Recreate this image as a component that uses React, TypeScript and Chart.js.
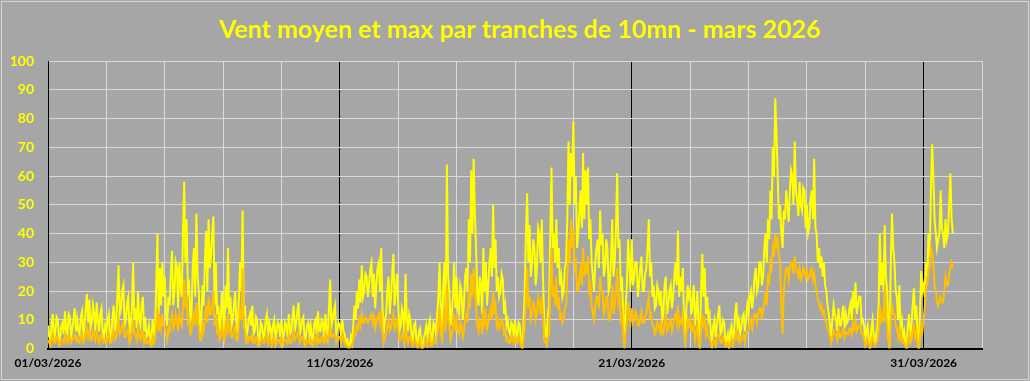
import { useEffect, useRef } from "react";
import { Chart, registerables } from "chart.js";

Chart.register(...registerables);

const TITLE = "Vent moyen et max par tranches de 10mn - mars 2026";

// one sample per hour, 24 samples per day, from 01/03 00h to 01/04 00h
const STEP_HOURS = 1;

const maxWind = [
  8, 4, 3, 9, 12, 2, 6, 11, 10, 3, 4, 8, 9, 5, 13, 6, 5, 12, 11, 4, 7, 10, 14, 6, // 01/03
  10, 6, 5, 11, 13, 4, 8, 14, 19, 9, 17, 7, 9, 15, 12, 6, 16, 10, 6, 12, 14, 5, 4, 8, // 02/03
  6, 10, 12, 3, 4, 11, 15, 6, 9, 18, 29, 12, 14, 20, 22, 8, 10, 16, 18, 5, 8, 14, 30, 10, // 03/03
  14, 7, 20, 10, 8, 15, 18, 6, 11, 4, 5, 8, 3, 2, 10, 5, 6, 22, 40, 12, 28, 15, 30, 18, // 04/03
  25, 12, 8, 18, 15, 26, 34, 15, 20, 30, 28, 14, 30, 22, 18, 40, 58, 30, 45, 20, 22, 10, 12, 28, // 05/03
  35, 18, 47, 25, 20, 6, 8, 22, 15, 30, 41, 20, 45, 28, 32, 40, 46, 15, 30, 12, 15, 6, 10, 20, // 06/03
  12, 5, 22, 14, 35, 12, 18, 8, 10, 16, 20, 6, 8, 18, 30, 20, 48, 12, 15, 4, 6, 10, 12, 8, // 07/03
  15, 5, 6, 11, 10, 2, 3, 9, 8, 4, 5, 10, 12, 4, 9, 7, 4, 8, 10, 3, 6, 9, 8, 4, // 08/03
  10, 3, 5, 9, 8, 4, 12, 5, 6, 11, 15, 6, 9, 13, 16, 5, 7, 10, 11, 3, 4, 8, 9, 5, // 09/03
  8, 3, 4, 9, 10, 5, 13, 6, 6, 10, 9, 4, 12, 6, 5, 14, 24, 8, 10, 13, 15, 5, 7, 9, // 10/03
  8, 4, 10, 6, 5, 2, 3, 1, 1, 4, 2, 8, 15, 10, 20, 14, 24, 16, 29, 18, 20, 26, 25, 18, // 11/03
  22, 28, 30, 18, 26, 14, 22, 28, 30, 20, 35, 15, 5, 10, 12, 20, 25, 12, 18, 26, 33, 15, 20, 26, // 12/03
  15, 6, 8, 14, 12, 5, 26, 10, 6, 12, 10, 4, 3, 8, 9, 2, 2, 6, 7, 1, 0, 4, 5, 8, // 13/03
  4, 8, 10, 2, 3, 9, 8, 5, 12, 18, 30, 10, 8, 22, 30, 12, 64, 25, 20, 8, 12, 18, 30, 14, // 14/03
  25, 14, 12, 22, 20, 10, 15, 25, 28, 20, 45, 30, 62, 40, 66, 47, 35, 18, 15, 25, 22, 12, 35, 20, // 15/03
  30, 15, 22, 30, 35, 25, 50, 28, 38, 20, 25, 18, 20, 26, 24, 12, 15, 8, 10, 6, 5, 9, 8, 4, // 16/03
  10, 4, 5, 9, 8, 2, 0, 8, 20, 40, 54, 30, 43, 25, 30, 38, 35, 22, 28, 42, 40, 30, 45, 25, // 17/03
  10, 5, 4, 12, 15, 40, 63, 35, 40, 30, 45, 28, 35, 22, 25, 18, 20, 28, 30, 45, 72, 50, 68, 60, // 18/03
  79, 50, 60, 35, 40, 48, 55, 42, 68, 45, 62, 50, 63, 38, 45, 30, 25, 20, 30, 35, 38, 28, 48, 36, // 19/03
  40, 25, 28, 38, 35, 20, 22, 32, 45, 25, 30, 42, 61, 35, 38, 20, 25, 10, 2, 15, 22, 38, 30, 20, // 20/03
  38, 22, 25, 30, 30, 18, 22, 28, 32, 20, 20, 26, 28, 35, 45, 25, 30, 18, 22, 14, 15, 22, 20, 15, // 21/03
  20, 10, 12, 22, 25, 12, 15, 20, 22, 14, 18, 25, 30, 22, 41, 18, 25, 20, 28, 10, 5, 15, 22, 18, // 22/03
  20, 12, 15, 22, 8, 14, 20, 6, 0, 20, 33, 18, 28, 12, 18, 10, 12, 6, 2, 8, 10, 4, 8, 12, // 23/03
  15, 5, 6, 10, 9, 2, 3, 5, 0, 6, 8, 4, 5, 12, 16, 8, 10, 5, 7, 11, 12, 6, 10, 15, // 24/03
  12, 18, 20, 14, 18, 25, 28, 20, 22, 30, 30, 22, 25, 35, 40, 30, 45, 38, 55, 45, 70, 60, 87, 75, // 25/03
  60, 45, 50, 40, 35, 48, 45, 55, 50, 44, 55, 62, 60, 50, 72, 55, 52, 46, 58, 50, 48, 56, 55, 42, // 26/03
  50, 40, 42, 52, 55, 45, 66, 42, 40, 30, 35, 28, 32, 25, 30, 22, 20, 15, 12, 8, 5, 10, 15, 12, // 27/03
  10, 6, 14, 8, 8, 12, 15, 7, 12, 9, 10, 14, 16, 10, 20, 14, 23, 12, 15, 18, 18, 9, 10, 8, // 28/03
  3, 6, 8, 2, 0, 7, 10, 4, 2, 5, 8, 15, 40, 22, 30, 20, 43, 25, 20, 8, 0, 30, 47, 35, // 29/03
  30, 20, 18, 10, 22, 8, 10, 4, 6, 2, 0, 8, 12, 5, 8, 15, 21, 10, 15, 4, 0, 12, 27, 20, // 30/03
  22, 18, 30, 25, 40, 32, 55, 71, 60, 45, 40, 35, 38, 40, 55, 42, 40, 35, 45, 38, 40, 50, 61, 45, // 31/03
  40, // 01/04 00h
];

const meanWind = [
  3, 2, 1, 4, 5, 2, 2, 4, 4, 1, 1, 3, 3, 2, 5, 3, 2, 4, 4, 2, 3, 4, 5, 3, // 01/03
  4, 2, 2, 4, 5, 2, 3, 5, 7, 4, 6, 3, 3, 6, 5, 3, 6, 4, 2, 4, 5, 2, 2, 3, // 02/03
  2, 4, 5, 2, 2, 5, 6, 3, 4, 7, 10, 5, 6, 8, 9, 4, 4, 6, 7, 2, 3, 6, 10, 5, // 03/03
  5, 3, 7, 4, 3, 6, 6, 2, 4, 2, 2, 3, 1, 1, 4, 2, 3, 8, 14, 6, 10, 7, 12, 8, // 04/03
  8, 5, 3, 7, 6, 10, 12, 7, 8, 12, 10, 6, 12, 9, 8, 15, 24, 14, 18, 9, 10, 5, 6, 10, // 05/03
  12, 8, 16, 10, 8, 3, 3, 8, 6, 11, 15, 9, 18, 12, 12, 15, 20, 8, 12, 6, 7, 3, 4, 8, // 06/03
  5, 3, 8, 6, 12, 6, 7, 4, 4, 7, 8, 3, 3, 8, 14, 10, 28, 8, 6, 2, 2, 4, 4, 3, // 07/03
  5, 2, 2, 4, 4, 1, 1, 3, 3, 2, 2, 4, 5, 2, 4, 3, 1, 3, 4, 1, 2, 3, 3, 2, // 08/03
  4, 1, 2, 3, 3, 2, 5, 2, 2, 4, 6, 3, 4, 5, 6, 2, 3, 4, 4, 1, 1, 3, 3, 2, // 09/03
  3, 1, 1, 3, 4, 2, 5, 2, 2, 4, 3, 2, 5, 3, 2, 5, 8, 4, 4, 5, 5, 2, 3, 4, // 10/03
  4, 2, 5, 3, 2, 1, 1, 0, 0, 1, 1, 3, 6, 5, 8, 7, 10, 8, 12, 9, 9, 11, 10, 9, // 11/03
  10, 11, 12, 9, 11, 7, 9, 11, 12, 9, 13, 6, 2, 4, 5, 8, 10, 6, 7, 10, 12, 7, 8, 10, // 12/03
  6, 3, 3, 5, 5, 2, 9, 4, 2, 4, 4, 2, 1, 3, 3, 1, 0, 2, 3, 0, 0, 1, 2, 3, // 13/03
  1, 3, 4, 1, 1, 3, 3, 2, 5, 8, 14, 5, 3, 9, 12, 6, 22, 10, 8, 3, 5, 8, 12, 6, // 14/03
  10, 6, 5, 9, 8, 4, 6, 10, 12, 9, 20, 14, 26, 18, 28, 20, 15, 8, 6, 10, 9, 5, 15, 9, // 15/03
  12, 7, 9, 12, 14, 10, 20, 12, 15, 8, 10, 7, 8, 10, 9, 5, 6, 3, 4, 2, 2, 4, 3, 2, // 16/03
  4, 2, 2, 4, 3, 1, 0, 3, 8, 18, 28, 14, 18, 10, 12, 16, 15, 10, 12, 18, 16, 12, 18, 12, // 17/03
  3, 2, 1, 4, 5, 20, 35, 18, 22, 15, 25, 14, 18, 11, 12, 9, 10, 14, 15, 25, 38, 30, 45, 35, // 18/03
  42, 28, 30, 20, 20, 25, 28, 22, 35, 25, 30, 26, 32, 20, 22, 15, 12, 10, 15, 18, 18, 14, 25, 20, // 19/03
  20, 12, 14, 18, 18, 10, 10, 15, 22, 12, 15, 20, 28, 16, 18, 10, 12, 5, 0, 6, 10, 16, 12, 9, // 20/03
  14, 9, 10, 13, 12, 8, 8, 11, 13, 9, 9, 11, 12, 15, 18, 11, 12, 8, 8, 5, 6, 9, 8, 6, // 21/03
  10, 5, 5, 9, 12, 6, 7, 9, 10, 6, 8, 11, 12, 9, 15, 8, 10, 9, 12, 5, 2, 6, 10, 8, // 22/03
  10, 6, 6, 9, 3, 6, 8, 2, 0, 8, 12, 7, 11, 5, 7, 4, 4, 2, 0, 3, 3, 1, 3, 5, // 23/03
  5, 2, 2, 4, 3, 1, 1, 2, 0, 2, 3, 1, 2, 4, 6, 3, 4, 2, 3, 4, 5, 2, 5, 6, // 24/03
  6, 9, 10, 7, 10, 12, 12, 9, 12, 14, 14, 11, 13, 16, 20, 15, 26, 22, 30, 28, 35, 32, 40, 36, // 25/03
  38, 32, 30, 15, 5, 20, 25, 28, 28, 24, 28, 30, 30, 26, 32, 28, 27, 25, 28, 24, 25, 28, 27, 25, // 26/03
  27, 24, 25, 27, 28, 24, 26, 22, 20, 17, 16, 14, 15, 12, 13, 10, 9, 7, 6, 4, 2, 4, 6, 5, // 27/03
  5, 3, 7, 4, 4, 6, 7, 4, 6, 5, 5, 7, 7, 5, 9, 7, 10, 6, 7, 8, 8, 5, 5, 4, // 28/03
  1, 2, 3, 1, 0, 3, 4, 2, 1, 2, 3, 6, 15, 10, 12, 9, 22, 12, 8, 3, 0, 10, 15, 12, // 29/03
  12, 8, 7, 4, 8, 3, 4, 2, 2, 1, 0, 3, 5, 2, 3, 6, 8, 4, 6, 2, 0, 4, 8, 6, // 30/03
  10, 15, 22, 22, 28, 28, 35, 33, 30, 22, 20, 16, 15, 17, 18, 16, 16, 20, 25, 22, 22, 26, 28, 30, // 31/03
  28, // 01/04 00h
];

const xTickLabels = ["01/03/2026", "11/03/2026", "21/03/2026", "31/03/2026"];
const X_MAX_HOURS = 32 * 24;
const GRID_STEP_HOURS = 48;
const LABEL_STEP_HOURS = 240;

const FONT = "Lato, 'Open Sans', 'DejaVu Sans', sans-serif";

const bgPlugin = {
  id: "bgPlugin",
  beforeDraw(chart: any) {
    const { ctx, width, height } = chart;
    ctx.save();
    ctx.fillStyle = "#a6a6a6";
    ctx.fillRect(0, 0, width, height);
    ctx.strokeStyle = "#d4d4d4";
    ctx.lineWidth = 1;
    ctx.strokeRect(1.5, 1.5, width - 3, height - 3);
    ctx.restore();
  },
};

export default function App() {
  const ref = useRef<HTMLCanvasElement>(null);

  useEffect(() => {
    document.body.style.margin = "0";
    if (!ref.current) return;
    const meanPts = meanWind.map((v, i) => ({ x: i * STEP_HOURS, y: v }));
    const maxPts = maxWind.map((v, i) => ({ x: i * STEP_HOURS, y: v }));

    const chart = new Chart(ref.current, {
      type: "line",
      data: {
        datasets: [
          {
            label: "Vent moyen",
            data: meanPts,
            borderColor: "#ffc000",
            backgroundColor: "#ffc000",
            borderWidth: 2,
            pointRadius: 0,
            tension: 0,
            yAxisID: "y",
          },
          {
            label: "Vent max",
            data: maxPts,
            borderColor: "#ffff00",
            backgroundColor: "#ffff00",
            borderWidth: 2,
            pointRadius: 0,
            tension: 0,
            yAxisID: "y",
          },
        ],
      },
      options: {
        animation: false,
        responsive: false,
        layout: { padding: { left: 10, right: 0, top: 0, bottom: 4 } },
        plugins: {
          legend: { display: false },
          tooltip: { enabled: false },
          title: {
            display: true,
            text: TITLE,
            color: "#ffff00",
            font: { family: FONT, size: 25, weight: "bold" },
            padding: { top: 15, bottom: 16 },
          },
        },
        scales: {
          x: {
            type: "linear",
            min: 0,
            max: X_MAX_HOURS,
            ticks: {
              stepSize: GRID_STEP_HOURS,
              autoSkip: false,
              maxRotation: 0,
              color: "#000000",
              font: { family: FONT, size: 12, weight: "bold" },
              padding: 7,
              callback: (v: any) =>
                Number(v) % LABEL_STEP_HOURS === 0 ? xTickLabels[Number(v) / LABEL_STEP_HOURS] ?? "" : "",
            },
            grid: {
              color: (c: any) =>
                c.tick && c.tick.value % LABEL_STEP_HOURS === 0 ? "#000000" : "#d9d9d9",
              lineWidth: 1,
              drawTicks: false,
            },
            border: { display: true, color: "#000000", width: 2 },
          },
          y: {
            min: 0,
            max: 100,
            ticks: {
              stepSize: 10,
              color: "#ffff00",
              font: { family: FONT, size: 14, weight: "bold" },
              padding: 14,
            },
            grid: { color: "#d9d9d9", lineWidth: 1, drawTicks: false },
            border: { display: true, color: "#000000", width: 1 },
            afterFit: (s: any) => {
              s.width = 38;
            },
          },
          yRight: {
            position: "right",
            min: 0,
            max: 100,
            ticks: { display: false },
            grid: { display: false, drawTicks: false },
            border: { display: false },
            afterFit: (s: any) => {
              s.width = 48;
            },
          },
        },
      },
      plugins: [bgPlugin],
    } as any);

    return () => chart.destroy();
  }, []);

  return <canvas ref={ref} width={1030} height={381} style={{ display: "block" }} />;
}
